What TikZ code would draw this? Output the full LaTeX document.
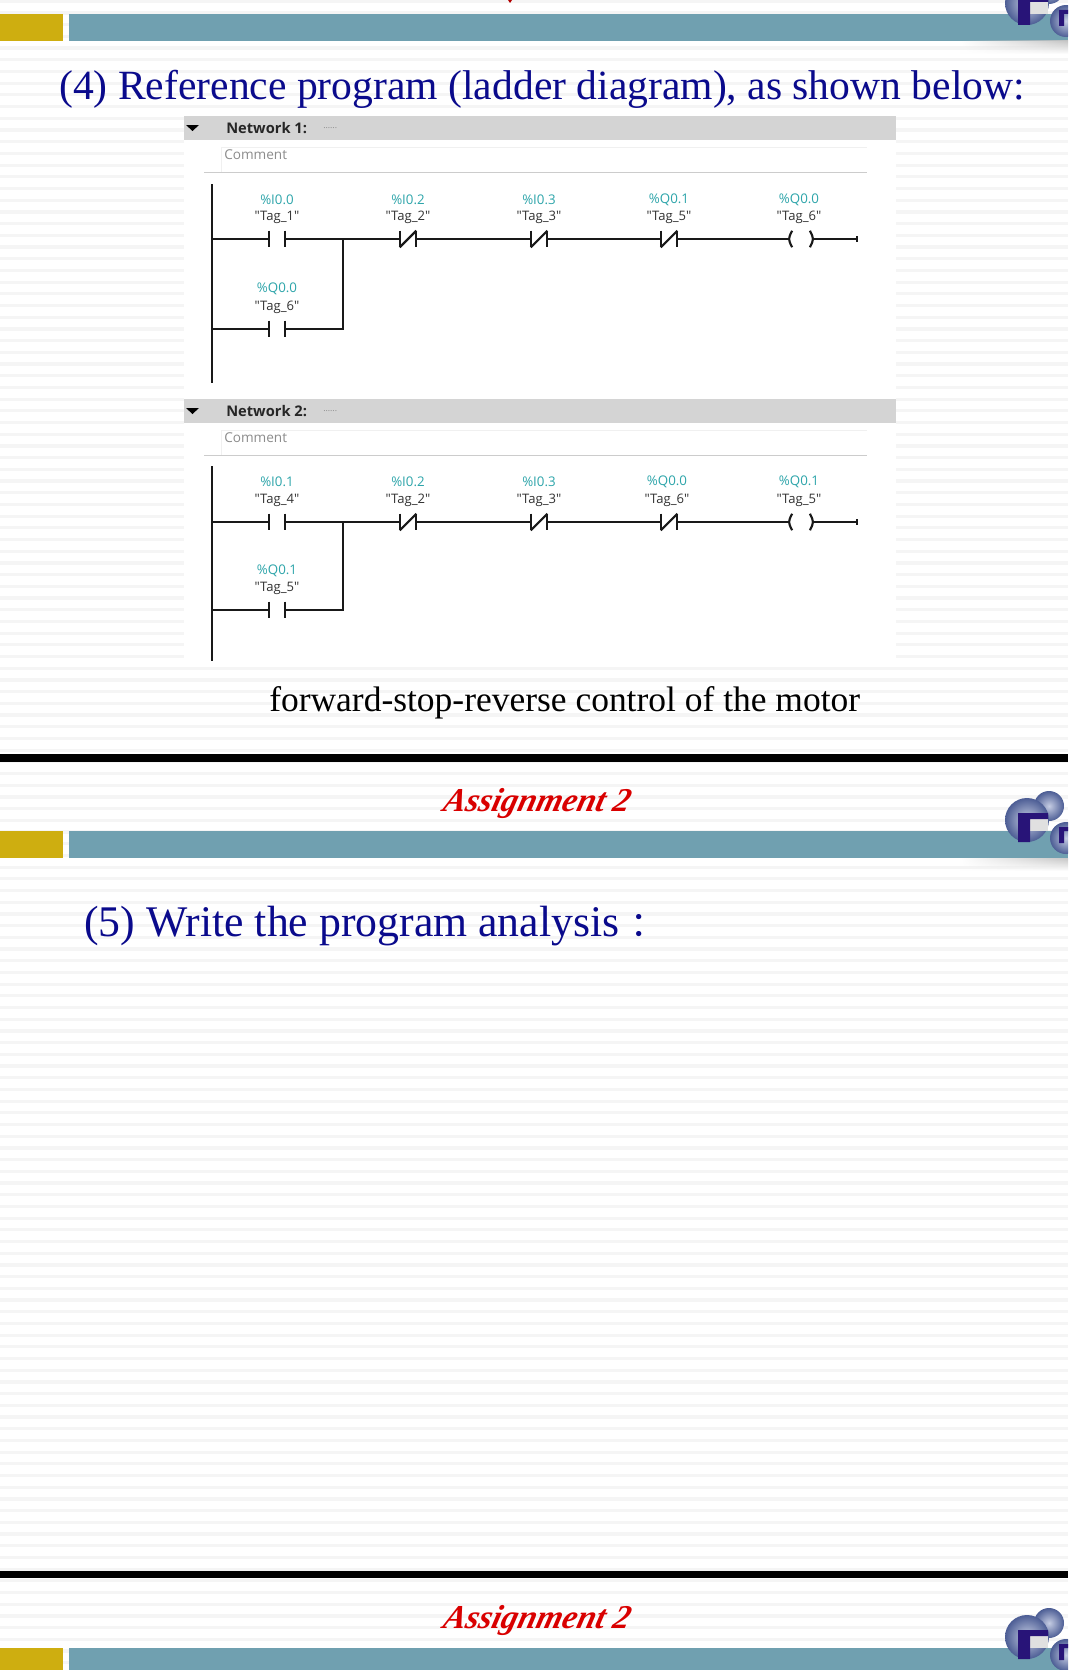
\documentclass[tikz,border=0pt]{standalone}
\usepackage{fontspec}
\setmainfont{Liberation Serif}
\newfontfamily\plcfont{Open Sans}
\newfontfamily\cjk{Noto Sans CJK SC}
\usetikzlibrary{fadings}
\definecolor{slideink}{RGB}{10,10,140}
\definecolor{plcteal}{RGB}{45,165,170}
\definecolor{bandteal}{RGB}{112,160,176}
\definecolor{bandgold}{RGB}{206,174,16}
\definecolor{ballblue}{RGB}{90,110,175}
\definecolor{logonavy}{RGB}{40,20,120}
\tikzset{
  wire/.style={line width=1.6pt,color=black!90},
  contact/.style={inner sep=0pt,minimum width=12pt,minimum height=12pt},
  coil/.style={inner sep=0pt,minimum width=17pt,minimum height=12pt},
  addr/.style={font=\plcfont\fontsize{10}{11}\selectfont,text=plcteal,inner sep=0pt},
  tagname/.style={font=\plcfont\fontsize{9.8}{11}\selectfont,text=black!80,inner sep=0pt},
  netname/.style={font=\plcfont\bfseries\fontsize{11}{12}\selectfont,text=black!85,inner sep=0pt,anchor=west},
  comment/.style={font=\plcfont\fontsize{10.2}{11}\selectfont,text=black!45,inner sep=0pt,anchor=west},
  heading/.style={font=\fontsize{31.2}{36}\selectfont,text=slideink,inner sep=0pt,anchor=west},
  assign/.style={font=\bfseries\itshape\fontsize{25}{30}\selectfont,text=red!85!black,inner sep=0pt,xslant=.25},
  ball/.style={inner color=ballblue!35,outer color=ballblue!85!black,draw=none},
  stripe/.style={line width=2.4pt,color=black!4},
}
\newcommand{\plctag}[1]{"Tag\_#1"}
\newcommand{\slidebar}[1]{%
  \fill[bandgold] (0,#1) rectangle (63,#1+27);
  \fill[bandteal] (69,#1) rectangle (1068,#1+27);
  \shade[path fading=west,top color=black!22,bottom color=white] (960,#1+27) rectangle (1068,#1+40);
  \shade[ball] (1049,#1-25) circle (15);
  \shade[ball] (1027,#1-11) circle (22);
  \fill[black!12] (1030,#1-12) rectangle (1048,#1);
  \fill[logonavy] (1018,#1+11) -- (1018,#1-18) -- (1048,#1-18) -- (1048,#1-12) -- (1030,#1-12) -- (1030,#1+11) -- cycle;
  \shade[ball] (1066,#1+7) circle (16);
  \fill[logonavy] (1059,#1+12) -- (1059,#1-4) -- (1068,#1-4) -- (1068,#1) -- (1064,#1) -- (1064,#1+12) -- cycle;
}
\begin{document}
\begin{tikzpicture}[x=.75pt,y=-.75pt]
\useasboundingbox (0,0) rectangle (1068,1670);
\clip (0,0) rectangle (1068,1670);
\fill[white] (0,0) rectangle (1068,1670);
% striped slide background
\foreach \k in {0,...,142}\draw[stripe] (0,{1.3+11.7*\k}) -- (1068,{1.3+11.7*\k});
\fill[red!70!black] (508,0) -- (512,0) -- (510,3) -- cycle;
\slidebar{14}
\node[heading] (title4) at (59,89) {(4) Reference program (ladder diagram), as shown below:};
% white panel with both networks
\fill[white] (184,116) rectangle (896,666);
\foreach \y/\n in {116/1,399/2}{
  \fill[black!17] (184,\y) rectangle (896,\y+24);
  \fill[black] (186,\y+9) -- (199,\y+9) -- (192.5,\y+15) -- cycle;
  \node[netname] (net\n) at (226,\y+12) {Network \n:};
  \node[font=\plcfont\fontsize{6.5}{7}\selectfont,text=black!45,inner sep=0pt,anchor=west] (dots\n) at (323,\y+12) {......};
  \draw[black!6] (221,\y+56) -- (221,\y+31) -- (867,\y+31);
  \draw[black!20] (204,\y+56) -- (867,\y+56);
  \node[comment] (comm\n) at (224,\y+39) {Comment};
}
% network 1
\node[contact] (a1) at (277,239) {};
\node[contact] (a2) at (408,239) {};
\node[contact] (a3) at (539,239) {};
\node[contact] (a4) at (669,239) {};
\node[coil] (a5) at (801,239) {};
\node[contact] (a6) at (277,329) {};
\coordinate (atop) at (212,184);
\coordinate (abot) at (212,383);
\coordinate (aout) at (857,239);
\coordinate (ajoin) at (343,239);
\coordinate (ajoinb) at (343,329);
\coordinate (arail) at (212,239);
\coordinate (arailb) at (212,329);
% network 2
\node[contact] (b1) at (277,522) {};
\node[contact] (b2) at (408,522) {};
\node[contact] (b3) at (539,522) {};
\node[contact] (b4) at (669,522) {};
\node[coil] (b5) at (801,522) {};
\node[contact] (b6) at (277,610) {};
\coordinate (btop) at (212,466);
\coordinate (bbot) at (212,661);
\coordinate (bout) at (857,522);
\coordinate (bjoin) at (343,522);
\coordinate (bjoinb) at (343,610);
\coordinate (brail) at (212,522);
\coordinate (brailb) at (212,610);
\foreach \n in {a,b}{
  \draw[wire] (\n top) -- (\n bot);
  \draw[wire] (\n rail) -- (\n 1.west);
  \draw[wire] (\n 1.east) -- (\n join) -- (\n 2.west);
  \draw[wire] (\n 2.east) -- (\n 3.west);
  \draw[wire] (\n 3.east) -- (\n 4.west);
  \draw[wire] (\n 4.east) -- (\n 5.west);
  \draw[wire] (\n 5.east) -- (\n out);
  \draw[wire] ([yshift=-2.2pt]\n out) -- ([yshift=2.2pt]\n out);
  \draw[wire] (\n railb) -- (\n 6.west);
  \draw[wire] (\n 6.east) -- (\n joinb) -- (\n join);
  \foreach \c in {1,2,3,4,6}
    \draw[wire] (\n\c.north west) -- (\n\c.south west) (\n\c.north east) -- (\n\c.south east);
  \foreach \c in {2,3,4}
    \draw[wire] (\n\c.south west) -- (\n\c.north east);
  \draw[wire] ([xshift=2pt]\n 5.north west) .. controls ([xshift=-1pt]\n 5.west) .. ([xshift=2pt]\n 5.south west);
  \draw[wire] ([xshift=-2pt]\n 5.north east) .. controls ([xshift=1pt]\n 5.east) .. ([xshift=-2pt]\n 5.south east);
}
% labels of network 1
\node[addr] (la1) at (277,199.5) {\%I0.0};
\node[tagname] (ta1) at (277,217) {\plctag{1}};
\node[addr] (la2) at (408,199.5) {\%I0.2};
\node[tagname] (ta2) at (408,217) {\plctag{2}};
\node[addr] (la3) at (539,199.5) {\%I0.3};
\node[tagname] (ta3) at (539,217) {\plctag{3}};
\node[addr] (la4) at (669,199.5) {\%Q0.1};
\node[tagname] (ta4) at (669,217) {\plctag{5}};
\node[addr] (la5) at (799,199.5) {\%Q0.0};
\node[tagname] (ta5) at (799,217) {\plctag{6}};
\node[addr] (la6) at (277,288.5) {\%Q0.0};
\node[tagname] (ta6) at (277,307) {\plctag{6}};
% labels of network 2
\node[addr] (lb1) at (277,482) {\%I0.1};
\node[tagname] (tb1) at (277,500) {\plctag{4}};
\node[addr] (lb2) at (408,482) {\%I0.2};
\node[tagname] (tb2) at (408,500) {\plctag{2}};
\node[addr] (lb3) at (539,482) {\%I0.3};
\node[tagname] (tb3) at (539,500) {\plctag{3}};
\node[addr] (lb4) at (667,482) {\%Q0.0};
\node[tagname] (tb4) at (667,500) {\plctag{6}};
\node[addr] (lb5) at (799,482) {\%Q0.1};
\node[tagname] (tb5) at (799,500) {\plctag{5}};
\node[addr] (lb6) at (277,570.5) {\%Q0.1};
\node[tagname] (tb6) at (277,588) {\plctag{5}};
\node[font=\fontsize{26.6}{30}\selectfont,inner sep=0pt,anchor=west] (motor) at (269,703) {forward-stop-reverse control of the motor};
% next slides
\fill[black] (0,754) rectangle (1068,762);
\node[assign] (assign1) at (537,803) {Assignment 2};
\slidebar{831}
\node[heading,font=\fontsize{32.8}{36}\selectfont] (title5) at (84,926) {(5) Write the program analysis {\cjk\fontsize{26}{30}\selectfont ：}};
\fill[black] (0,1571) rectangle (1068,1578);
\node[assign] (assign2) at (537,1620) {Assignment 2};
\slidebar{1648}
\end{tikzpicture}
\end{document}
